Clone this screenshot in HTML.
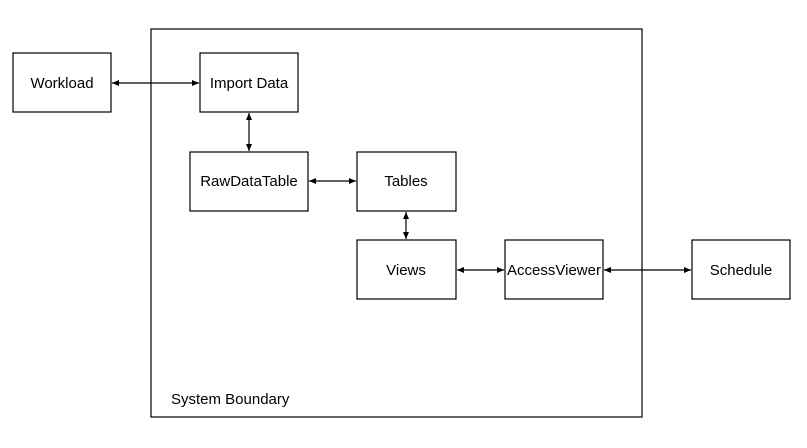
<!DOCTYPE html>
<html><head><style>body{margin:0;background:#fff}</style></head><body>
<svg width="807" height="443" xmlns="http://www.w3.org/2000/svg" font-family="Liberation Sans, sans-serif" font-size="15">
<defs><marker id="a" markerWidth="8" markerHeight="8" refX="7" refY="4" orient="auto-start-reverse" markerUnits="userSpaceOnUse"><path d="M0,1 L7,4 L0,7z" fill="#000"/></marker></defs>
<g fill="none" stroke="#000" stroke-width="1.2">
<rect x="151" y="29" width="491" height="388"/>
<rect x="13" y="53" width="98" height="59"/>
<rect x="200" y="53" width="98" height="59"/>
<rect x="190" y="152" width="118" height="59"/>
<rect x="357" y="152" width="99" height="59"/>
<rect x="357" y="240" width="99" height="59"/>
<rect x="505" y="240" width="98" height="59"/>
<rect x="692" y="240" width="98" height="59"/>
<line x1="112" y1="83" x2="199" y2="83" marker-start="url(#a)" marker-end="url(#a)"/>
<line x1="249" y1="113" x2="249" y2="151" marker-start="url(#a)" marker-end="url(#a)"/>
<line x1="309" y1="181" x2="356" y2="181" marker-start="url(#a)" marker-end="url(#a)"/>
<line x1="406" y1="212" x2="406" y2="239" marker-start="url(#a)" marker-end="url(#a)"/>
<line x1="457" y1="270" x2="504" y2="270" marker-start="url(#a)" marker-end="url(#a)"/>
<line x1="604" y1="270" x2="691" y2="270" marker-start="url(#a)" marker-end="url(#a)"/>
</g>
<g text-anchor="middle">
<text x="62" y="88">Workload</text>
<text x="249" y="88">Import Data</text>
<text x="249" y="186">RawDataTable</text>
<text x="406" y="186">Tables</text>
<text x="406" y="275">Views</text>
<text x="554" y="275">AccessViewer</text>
<text x="741" y="275">Schedule</text>
</g>
<text x="171" y="404">System Boundary</text>
</svg>
</body></html>
